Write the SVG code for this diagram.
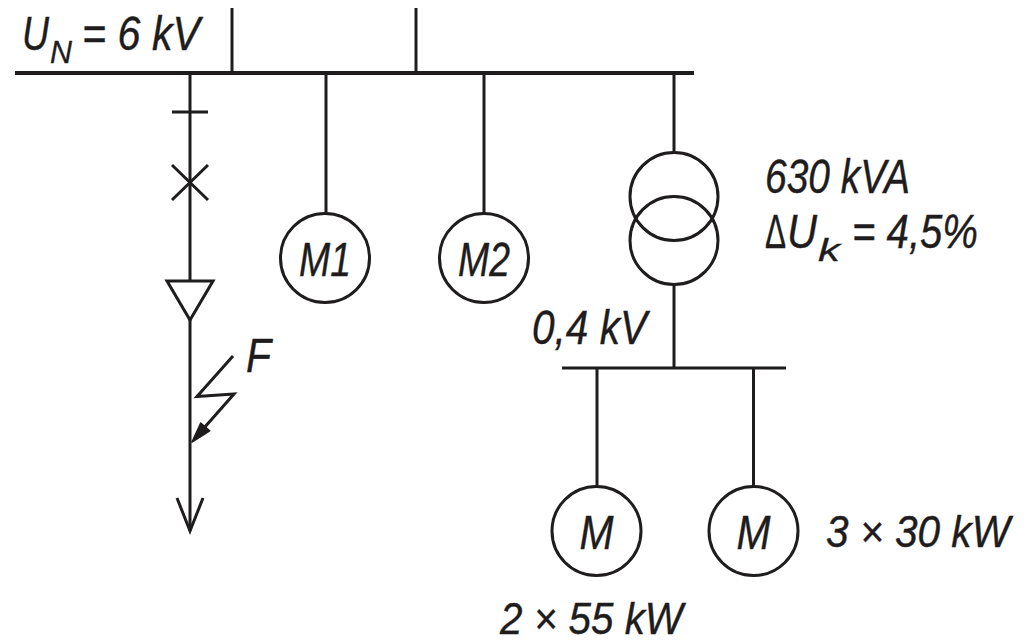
<svg xmlns="http://www.w3.org/2000/svg" width="1025" height="641" viewBox="0 0 1025 641">
<style>
.ln{stroke:#1f1c1d;stroke-width:3;fill:none;stroke-linecap:butt}
.bus{stroke:#1f1c1d;stroke-width:4;fill:none}
.sym{stroke:#1f1c1d;stroke-width:3;fill:#fff}
.t{font-family:"Liberation Sans",Arial,sans-serif;font-style:italic;font-size:48px;fill:#1f1c1d;stroke:#1f1c1d;stroke-width:0.4}
.ts{font-family:"Liberation Sans",Arial,sans-serif;font-style:italic;font-size:32px;fill:#1f1c1d;stroke:#1f1c1d;stroke-width:0.3}
.tr{font-size:44px}
</style>
<rect width="1025" height="641" fill="#fff"/>
<g id="connectors">
<line class="ln" x1="232" y1="8" x2="232" y2="73"/>
<line class="ln" x1="416" y1="8" x2="416" y2="73"/>
<line class="ln" x1="190" y1="73" x2="190" y2="531"/>
<line class="ln" x1="326" y1="73" x2="326" y2="214"/>
<line class="ln" x1="484" y1="73" x2="484" y2="214"/>
<line class="ln" x1="674" y1="73" x2="674" y2="153"/>
<line class="ln" x1="674" y1="284" x2="674" y2="368"/>
<line class="ln" x1="597" y1="368" x2="597" y2="487"/>
<line class="ln" x1="753.5" y1="368" x2="753.5" y2="487"/>
</g>
<g id="bus-6kv">
<line class="bus" x1="15" y1="73" x2="694" y2="73"/>
<text class="t" x="22" y="50" textLength="27" lengthAdjust="spacingAndGlyphs">U</text>
<text class="ts" x="50" y="63" textLength="22" lengthAdjust="spacingAndGlyphs">N</text>
<text class="t" x="82" y="50" textLength="118" lengthAdjust="spacingAndGlyphs">= 6 kV</text>
</g>
<g id="disconnector">
<line class="ln" x1="172" y1="112" x2="208" y2="112"/>
</g>
<g id="breaker">
<line class="ln" x1="172" y1="165" x2="208" y2="200"/>
<line class="ln" x1="208" y1="165" x2="172" y2="200"/>
</g>
<g id="cable-end">
<polygon class="sym" points="167,281 213,281 190,320"/>
</g>
<g id="fault">
<polyline class="ln" points="233,356 197,396.5 234,394 204,428"/>
<polygon points="192,442 209.7,430.9 200.7,423.1" fill="#1f1c1d" stroke="#1f1c1d" stroke-width="1.5" stroke-linejoin="round"/>
<text class="t" x="246" y="372" textLength="25" lengthAdjust="spacingAndGlyphs">F</text>
</g>
<g id="load-arrow">
<polyline class="ln" points="177,498 190,531 203,498"/>
</g>
<g id="M1">
<circle class="sym" cx="325" cy="258" r="44.5"/>
<text class="t" x="325" y="276" text-anchor="middle" textLength="52" lengthAdjust="spacingAndGlyphs">M1</text>
</g>
<g id="M2">
<circle class="sym" cx="484" cy="258" r="44.5"/>
<text class="t" x="484" y="276" text-anchor="middle" textLength="52" lengthAdjust="spacingAndGlyphs">M2</text>
</g>
<g id="transformer">
<circle cx="674" cy="240.5" r="44" fill="none" stroke="#1f1c1d" stroke-width="3"/>
<circle cx="674" cy="196.5" r="44" fill="none" stroke="#1f1c1d" stroke-width="3"/>
<text class="t" x="765" y="193" textLength="145" lengthAdjust="spacingAndGlyphs">630 kVA</text>
<text class="t" x="765" y="248" textLength="21" lengthAdjust="spacingAndGlyphs" style="font-style:normal">Δ</text>
<text class="t" x="787" y="248" textLength="30" lengthAdjust="spacingAndGlyphs">U</text>
<text class="ts" x="818" y="261" textLength="22" lengthAdjust="spacingAndGlyphs">k</text>
<text class="t" x="852" y="248" textLength="126" lengthAdjust="spacingAndGlyphs">= 4,5%</text>
</g>
<g id="bus-04kv">
<line class="ln" x1="562" y1="368" x2="786" y2="368"/>
<text class="t" x="532" y="344" textLength="115" lengthAdjust="spacingAndGlyphs">0,4 kV</text>
</g>
<g id="motor-2x55">
<circle class="sym" cx="596.5" cy="531" r="44.5"/>
<text class="t" x="596.5" y="549" text-anchor="middle" textLength="34" lengthAdjust="spacingAndGlyphs">M</text>
<text class="t tr" x="500" y="634" textLength="183" lengthAdjust="spacingAndGlyphs">2 × 55 kW</text>
</g>
<g id="motor-3x30">
<circle class="sym" cx="753.5" cy="531" r="44.5"/>
<text class="t" x="753.5" y="549" text-anchor="middle" textLength="34" lengthAdjust="spacingAndGlyphs">M</text>
<text class="t tr" x="826" y="547" textLength="184" lengthAdjust="spacingAndGlyphs">3 × 30 kW</text>
</g>
</svg>
